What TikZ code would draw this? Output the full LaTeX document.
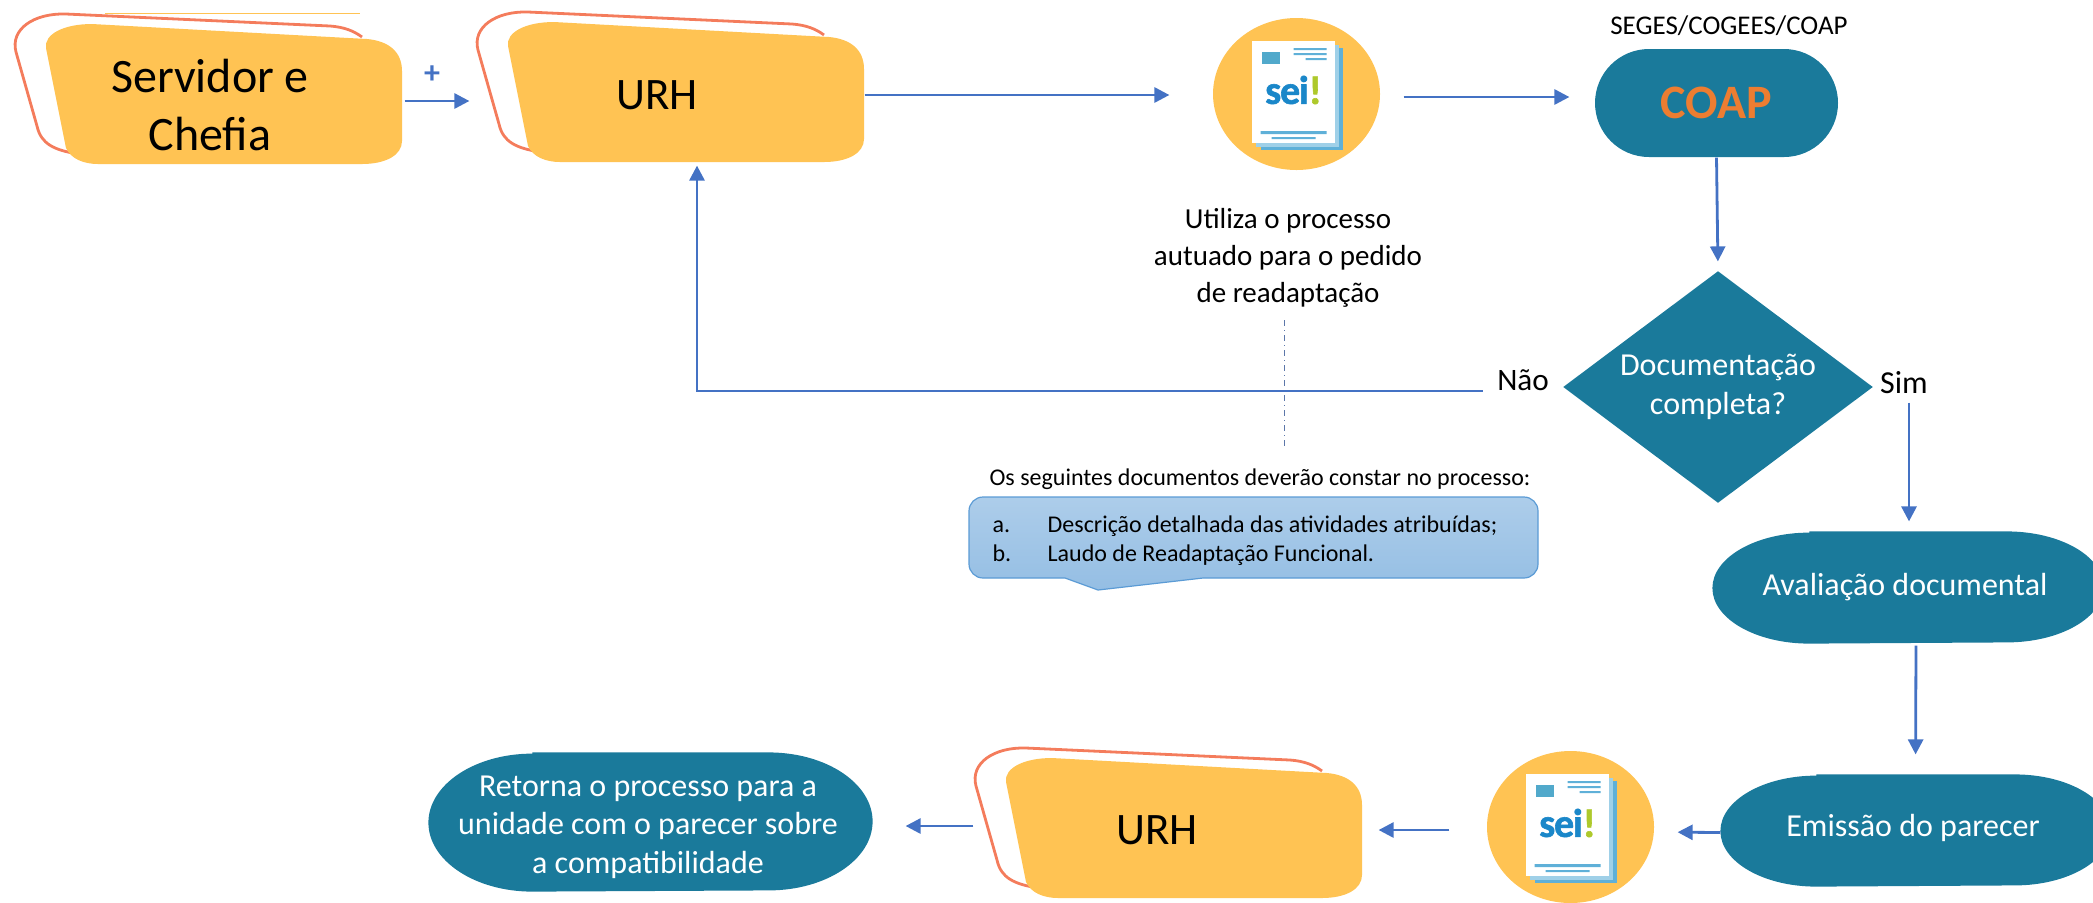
\documentclass[tikz,border=0pt]{standalone}
\usepackage{fontspec}
\setmainfont{Carlito}
\newfontfamily\seifont[RawFeature={embolden=1.5},LetterSpace=-3]{Carlito}
\usepackage{xcolor}
\usetikzlibrary{arrows.meta}
\usetikzlibrary{calc}
\usetikzlibrary{shapes.geometric,shapes.misc}

\definecolor{blobcol}{HTML}{FFC353}
\definecolor{rimcol}{HTML}{F47C5C}
\definecolor{tealcol}{HTML}{1A7A9B}
\definecolor{flowcol}{HTML}{4472C4}
\definecolor{pagecol}{HTML}{5FB0D8}
\definecolor{seiblue}{HTML}{1A87C9}
\definecolor{seigreen}{HTML}{AEC92B}
\definecolor{notecol}{HTML}{5B9BD5}

\newcommand{\fsz}[1]{\fontsize{#1}{1.2\dimexpr#1\relax}\selectfont}

% blob with its rim, origin at top left of the rim
\newcommand{\blobshape}[2]{
	\begin{scope}[shift={(#1)}]
		\draw[rim] (64,140) .. controls (40,136) and (27,130) .. (23,112) -- (2,38) .. controls (-4,15) and (20,-1) .. (52,0) -- (316,12) .. controls (330,13) and (340,17) .. (348,23);
		\fill[blobcol] (78,10) -- (353,25) .. controls (375,27) and (388,38) .. (388,57) -- (388,127) .. controls (388,141) and (372,150) .. (348,150) -- (84,150) .. controls (70,150) and (57,145) .. (52,134) -- (32,34) .. controls (30,20) and (50,10) .. (78,10);
		\node[blobarea] (#2) at (194,85) {};
	\end{scope}
}
% round badge with the document sheet
\newcommand{\seibadge}[2]{
	\node[badge] (#2) at (#1) {};
	\begin{scope}[shift={(#1)}]
		\fill[pagecol] (-36,-46) rectangle (46,56);
		\fill[pagecol!60] (-41,-49) rectangle (42,53);
		\fill[white] (-45,-53) rectangle (38,49);
		\fill[pagecol!85!teal] (-35,-42) rectangle (-17,-30);
		\fill[pagecol] (-3,-46) rectangle (30,-44) (-3,-41) rectangle (30,-39) (9,-36) rectangle (30,-34);
		\fill[pagecol] (-36,37) rectangle (30,40) (-25,43) rectangle (19,45);
		\node[seitext] (#2text) at (-3,-4) {\textcolor{seiblue}{sei}\textcolor{seigreen}{!}};
	\end{scope}
}
% teal oval behind a node, ends with half axes #2 and #3
\newcommand{\ovalfill}[3]{
	\fill[tealcol] ([xshift=#2]#1.north west) -- ([xshift=-#2]#1.north east) arc[start angle=90,end angle=-90,x radius=#2,y radius=#3] -- ([xshift=#2]#1.south west) arc[start angle=270,end angle=90,x radius=#2,y radius=#3] -- cycle;
}

\begin{document}
\begin{tikzpicture}[x=.5pt,y=-.5pt,>={Triangle[length=7.5pt,width=7.5pt]},semithick]
	\tikzstyle{rim}=[rimcol, line width=1.4pt]
	\tikzstyle{blobarea}=[rectangle, inner sep=0pt, minimum width=194pt, minimum height=60pt]
	\tikzstyle{blobtext}=[align=center, text=black]
	\tikzstyle{badge}=[ellipse, fill=blobcol, inner sep=0pt, minimum width=83.5pt, minimum height=76pt]
	\tikzstyle{seitext}=[font=\seifont\fsz{20pt}\bfseries, inner sep=0pt]
	\tikzstyle{pill}=[rectangle, inner sep=0pt]
	\tikzstyle{pilltext}=[text=white, inner sep=0pt, align=center, font=\fsz{16pt}]
	\tikzstyle{plain}=[align=center, text=black, font=\fsz{14.5pt}, inner sep=0pt]
	\tikzstyle{flow}=[->, flowcol, line width=1.4pt]

	\useasboundingbox (0,0) rectangle (2093,902);

	\draw[blobcol, line width=.5pt] (105,13) -- (360,13);
	\blobshape{14,14}{servidor}
	\blobshape{476,12}{urhtop}
	\blobshape{974,748}{urhbottom}
	\seibadge{1296.5,94}{seitop}
	\seibadge{1570.5,827}{seibottom}

	\node[blobtext, font=\fsz{24pt}] (servidortext) at (210,105) {Servidor e\\Chefia};
	\node[blobtext, font=\fsz{22.5pt}] (urhtoptext) at (657,95) {URH};
	\node[blobtext, font=\fsz{22.5pt}] (urhbottomtext) at (1157,830) {URH};
	\node[text=flowcol, font=\fsz{16pt}\bfseries, inner sep=0pt] (plus) at (432,75) {+};

	\node[rounded rectangle, fill=tealcol, inner sep=0pt, minimum width=121.5pt, minimum height=54pt, font=\fsz{24pt}\bfseries] (coap) at (1716.5,103) {\textcolor[HTML]{ED7D31}{COAP}};
	\node[diamond, aspect=1.33, fill=tealcol, text=white, inner sep=0pt, minimum width=155pt, minimum height=116pt, align=center, font=\fsz{16pt}] (docok) at (1718,387) {Documentação\\completa?};

	\node[pill, minimum width=195pt, minimum height=55.5pt] (avaliacao) at (1908,587.5) {};
	\ovalfill{avaliacao}{48.5pt}{27.75pt}
	\node[pilltext] (avaliacaotext) at (1905,587) {Avaliação documental};
	\node[pill, minimum width=194.5pt, minimum height=55.5pt] (emissao) at (1915.5,830.5) {};
	\ovalfill{emissao}{48pt}{27.75pt}
	\node[pilltext] (emissaotext) at (1913,828) {Emissão do parecer};
	\node[pill, minimum width=221.5pt, minimum height=69pt] (retorna) at (650.5,822) {};
	\ovalfill{retorna}{52pt}{34.5pt}
	\node[pilltext] (retornatext) at (648,827) {Retorna o processo para a\\unidade com o parecer sobre\\a compatibilidade};

	\node[plain, font=\fsz{13.5pt}] (seges) at (1729,26) {SEGES/COGEES/COAP};
	\node[plain, font=\fontsize{14.5pt}{18.4pt}\selectfont] (utiliza) at (1288,258) {Utiliza o processo\\autuado para o pedido\\de readaptação};
	\node[plain, font=\fsz{15.6pt}] (nao) at (1523,380) {Não};
	\node[plain, font=\fsz{16pt}] (sim) at (1904,383) {Sim};
	\node[plain, font=\fsz{12pt}] (seguintes) at (1260,479) {Os seguintes documentos deverão constar no processo:};

	\draw[notecol, top color=notecol!50!white, bottom color=notecol!65!white, line width=.6pt, rounded corners=7pt] (969,497) -- (1538,497) -- (1538,578) [sharp corners] -- (1203,578) -- (1098,590) -- (1065,578) [rounded corners=7pt] -- (969,578) -- cycle;
	\node[plain, font=\fsz{12pt}, align=left, anchor=west] (notetext) at (992,541) {\begin{tabular}{@{}l@{\hspace{18.2pt}}l@{}}a.&Descrição detalhada das atividades atribuídas;\\b.&Laudo de Readaptação Funcional.\end{tabular}};

	\coordinate (dashtop) at (1284,320);
	\coordinate (dashbottom) at (1284,447);
	\draw[flowcol!60!gray, line width=.5pt, dash dot] (dashtop) -- (dashbottom);

	\path[flow]
	([yshift=-1pt]servidor.east) edge[shorten <=1pt, shorten >=3pt] ([yshift=-2pt]urhtop.west)
	([yshift=1pt]urhtop.east) edge[shorten >=21.5pt] ([yshift=-.5pt]seitop.west)
	([yshift=-1.5pt]seitop.east) edge[shorten <=11.5pt, shorten >=12.5pt] ([yshift=3pt]coap.west)
	(coap.south) edge[shorten >=4.5pt] (docok.north)
	([xshift=2.5pt]sim.south) edge[shorten <=4pt, shorten >=5pt] ([xshift=.5pt]avaliacao.north)
	([xshift=4pt]avaliacao.south) edge[shorten <=1pt, shorten >=10pt] (emissao.north)
	([yshift=-1pt]emissao.west) edge[shorten >=11.5pt] ([yshift=-2.5pt]seibottom.east)
	([yshift=-1.5pt]seibottom.west) edge[shorten <=18.5pt, shorten >=8pt] ([yshift=1.5pt]urhbottom.east)
	([yshift=3.5pt]urhbottom.west) edge[shorten >=16.5pt] ([yshift=-2pt]retorna.east);
	\draw[flow, shorten <=7pt, shorten >=1.5pt] ([yshift=-5.5pt]nao.west) -| ([xshift=13.5pt,yshift=-2.5pt]urhtop.south);
\end{tikzpicture}
\end{document}
